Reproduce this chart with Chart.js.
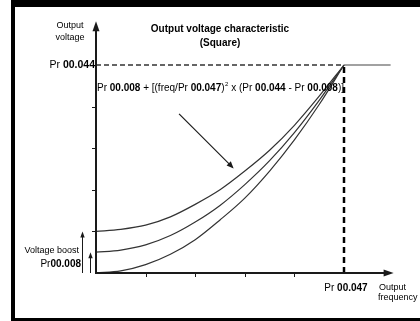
<!DOCTYPE html>
<html>
<head>
<meta charset="utf-8">
<script src="https://cdn.jsdelivr.net/npm/chart.js@4/dist/chart.umd.min.js"></script>
<style>
  html, body { margin: 0; padding: 0; background: #ffffff; }
  #wrap { position: relative; width: 420px; height: 321px; }
  canvas { display: block; }
</style>
</head>
<body>
<div id="wrap"><canvas id="c" width="420" height="321"></canvas></div>
<script>
// ---- Data (normalised: frequency % of Pr 00.047, voltage % of Pr 00.044) ----
const FREQ      = [0, 10, 20, 30, 40, 50, 60, 70, 80, 90, 100];
const BOOST_0   = [0, 1, 4, 9, 16, 25.5, 36, 49, 64, 81, 100];
const BOOST_10  = [10, 11, 13.5, 18, 24.5, 32.5, 42.5, 54, 67.5, 83, 100];
const BOOST_20  = [20, 21, 23, 27, 33, 40, 49, 59, 71, 85, 100];
const FLAT_FREQ = [100, 118.8];
const FLAT_VOLT = [100, 100];
const F_RATED   = 100;   // Pr 00.047
const V_RATED   = 100;   // Pr 00.044
const BOOSTS    = [20, 10];
const TICK_VALUES = [20, 40, 60, 80];
const AXIS_MAX_X = 120;
const AXIS_MAX_Y = 121;
const TITLE_LINES = ['Output voltage characteristic', '(Square)'];
const Y_TITLE = ['Output', 'voltage'];
const X_TITLE = ['Output', 'frequency'];
const LBL_V = [['Pr ', false], ['00.044', true]];
const LBL_F = [['Pr ', false], ['00.047', true]];
const LBL_BOOST = ['Voltage boost'];
const LBL_BOOST_PR = [['Pr', false], ['00.008', true]];
const FORMULA_A = [['Pr ', false], ['00.008', true], [' + [(freq/Pr ', false], ['00.047', true], [')', false]];
const FORMULA_B = [[' x (Pr ', false], ['00.044', true], [' - Pr ', false], ['00.008', true], [')]', false]];

const pts = (xs, ys) => xs.map((x, i) => ({x: x, y: ys[i]}));
const FONT = '"Liberation Sans", Arial, Helvetica, sans-serif';

function richWidth(ctx, parts, size) {
  let w = 0;
  for (const [t, b] of parts) { ctx.font = (b ? 'bold ' : '') + size + 'px ' + FONT; w += ctx.measureText(t).width; }
  return w;
}
function drawRich(ctx, parts, x, y, size, align) {
  let w = richWidth(ctx, parts, size);
  let cx = align === 'right' ? x - w : (align === 'center' ? x - w / 2 : x);
  ctx.textBaseline = 'middle'; ctx.textAlign = 'left';
  for (const [t, b] of parts) {
    ctx.font = (b ? 'bold ' : '') + size + 'px ' + FONT;
    ctx.fillText(t, cx, y);
    cx += ctx.measureText(t).width;
  }
  return cx;
}
function arrowHead(ctx, tipX, tipY, ang, len, half) {
  ctx.beginPath();
  ctx.moveTo(tipX, tipY);
  ctx.lineTo(tipX - len * Math.cos(ang) + half * Math.sin(ang), tipY - len * Math.sin(ang) - half * Math.cos(ang));
  ctx.lineTo(tipX - len * Math.cos(ang) - half * Math.sin(ang), tipY - len * Math.sin(ang) + half * Math.cos(ang));
  ctx.closePath();
  ctx.fill();
}

const decor = {
  id: 'decor',
  beforeDraw(chart) {
    const ctx = chart.ctx;
    ctx.save();
    ctx.fillStyle = '#ffffff';
    ctx.fillRect(0, 0, 420, 321);
    ctx.fillStyle = '#000000';
    ctx.fillRect(11, 0, 409, 7);
    ctx.fillRect(11, 0, 4, 321);
    ctx.fillRect(11, 318, 409, 3);
    ctx.restore();
  },
  afterDatasetsDraw(chart) {
    const ctx = chart.ctx;
    const xs = chart.scales.x, ys = chart.scales.y;
    const x0 = xs.getPixelForValue(0), y0 = ys.getPixelForValue(0);
    const xEnd = xs.getPixelForValue(AXIS_MAX_X), yEnd = ys.getPixelForValue(AXIS_MAX_Y);
    ctx.save();
    ctx.strokeStyle = '#1a1a1a'; ctx.fillStyle = '#1a1a1a';
    // axes
    ctx.lineWidth = 2;
    ctx.beginPath();
    ctx.moveTo(x0, y0); ctx.lineTo(x0, yEnd + 8);
    ctx.moveTo(x0 - 1, y0); ctx.lineTo(xEnd - 8, y0);
    ctx.stroke();
    arrowHead(ctx, x0, yEnd, -Math.PI / 2, 10, 3.5);
    arrowHead(ctx, xEnd, y0, 0, 10, 3.5);
    // ticks
    ctx.lineWidth = 1;
    ctx.beginPath();
    for (const t of TICK_VALUES) {
      const py = Math.round(ys.getPixelForValue(t)) + 0.5;
      ctx.moveTo(x0 - 4, py); ctx.lineTo(x0, py);
      const px = Math.round(xs.getPixelForValue(t)) + 0.5;
      ctx.moveTo(px, y0); ctx.lineTo(px, y0 + 4);
    }
    const pyR = Math.round(ys.getPixelForValue(V_RATED)) + 0.5;
    ctx.moveTo(x0 - 4, pyR); ctx.lineTo(x0, pyR);
    ctx.stroke();
    // boost arrows
    const bx = [x0 - 14, x0 - 6];
    BOOSTS.forEach((b, i) => {
      const tip = ys.getPixelForValue(b);
      ctx.beginPath();
      ctx.moveTo(bx[i] + 0.5, y0); ctx.lineTo(bx[i] + 0.5, tip + 5);
      ctx.stroke();
      arrowHead(ctx, bx[i] + 0.5, tip, -Math.PI / 2, 6, 2.2);
    });
    // diagonal pointer arrow
    const ax1 = xs.getPixelForValue(33.5), ay1 = ys.getPixelForValue(76.5);
    const ax2 = xs.getPixelForValue(55.5), ay2 = ys.getPixelForValue(50.3);
    const ang = Math.atan2(ay2 - ay1, ax2 - ax1);
    ctx.lineWidth = 1.2;
    ctx.beginPath(); ctx.moveTo(ax1, ay1); ctx.lineTo(ax2 - 5 * Math.cos(ang), ay2 - 5 * Math.sin(ang)); ctx.stroke();
    arrowHead(ctx, ax2, ay2, ang, 7, 3);

    // texts
    ctx.fillStyle = '#000000';
    ctx.textAlign = 'center'; ctx.textBaseline = 'middle';
    ctx.font = 'bold 10px ' + FONT;
    ctx.fillText(TITLE_LINES[0], 220, 29);
    ctx.fillText(TITLE_LINES[1], 220, 43);
    ctx.font = '9px ' + FONT;
    ctx.fillText(Y_TITLE[0], 70, 26);
    ctx.fillText(Y_TITLE[1], 70, 38);
    ctx.textAlign = 'left';
    ctx.fillText(X_TITLE[0], 379, 288);
    ctx.fillText(X_TITLE[1], 378, 298);
    ctx.textAlign = 'right';
    ctx.fillText(LBL_BOOST[0], 79, 251);
    drawRich(ctx, LBL_BOOST_PR, 81, 264, 10, 'right');
    drawRich(ctx, LBL_V, x0 - 1, ys.getPixelForValue(V_RATED), 10.5, 'right');
    drawRich(ctx, LBL_F, xs.getPixelForValue(F_RATED) + 2, y0 + 15, 10, 'center');
    // formula
    let fx = drawRich(ctx, FORMULA_A, x0 + 1, 88, 10, 'left');
    ctx.font = '6px ' + FONT; ctx.textAlign = 'left';
    ctx.fillText('2', fx + 0.5, 84);
    fx += ctx.measureText('2').width + 0.5;
    drawRich(ctx, FORMULA_B, fx, 88, 10, 'left');
    ctx.restore();
  }
};

const curveStyle = { borderColor: '#333333', borderWidth: 1.2, pointRadius: 0, showLine: true, fill: false, tension: 0.4, cubicInterpolationMode: 'monotone' };

new Chart(document.getElementById('c'), {
  type: 'scatter',
  data: {
    datasets: [
      Object.assign({ label: 'Boost 0',  data: pts(FREQ, BOOST_0) },  curveStyle),
      Object.assign({ label: 'Boost 10', data: pts(FREQ, BOOST_10) }, curveStyle),
      Object.assign({ label: 'Boost 20', data: pts(FREQ, BOOST_20) }, curveStyle),
      { label: 'Flat', data: pts(FLAT_FREQ, FLAT_VOLT), borderColor: '#444444', borderWidth: 1.2, pointRadius: 0, showLine: true },
      { label: 'V rated', data: pts([0, F_RATED], [V_RATED, V_RATED]), borderColor: '#333333', borderWidth: 1.3, borderDash: [5, 3], pointRadius: 0, showLine: true },
      { label: 'F rated', data: pts([F_RATED, F_RATED], [0, V_RATED]), borderColor: '#000000', borderWidth: 2.5, borderDash: [6, 4], pointRadius: 0, showLine: true }
    ]
  },
  options: {
    responsive: false,
    animation: false,
    events: [],
    layout: { padding: { left: 96, right: 26.4, top: 21.32, bottom: 48 } },
    plugins: { legend: { display: false }, tooltip: { enabled: false }, title: { display: false } },
    scales: {
      x: { type: 'linear', display: false, min: 0, max: AXIS_MAX_X },
      y: { type: 'linear', display: false, min: 0, max: AXIS_MAX_Y }
    }
  },
  plugins: [decor]
});
</script>
</body>
</html>
